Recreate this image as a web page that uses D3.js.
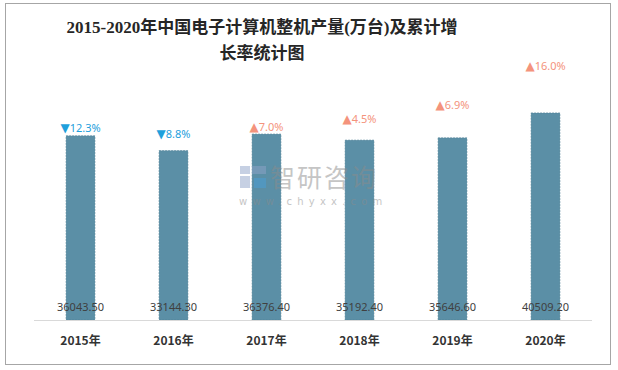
<!DOCTYPE html>
<html>
<head>
<meta charset="utf-8">
<script src="https://cdn.jsdelivr.net/npm/d3@7"></script>
<style>
  body { margin: 0; background: #fff; }
  svg { display: block; }
</style>
</head>
<body>
<div id="chart"></div>
<script>
// values
const years = ["2015年", "2016年", "2017年", "2018年", "2019年", "2020年"];
const output = [36043.5, 33144.3, 36376.4, 35192.4, 35646.6, 40509.2];
const growth = [-12.3, -8.8, 7.0, 4.5, 6.9, 16.0];
// hidden helper series that carries the growth labels (same unit as output)
const labelAnchor = [37550, 36400, 37750, 39300, 42050, 49650];

const W = 618, H = 370;
const margin = { top: 90, right: 26, bottom: 50, left: 34 };
const width = W - margin.left - margin.right;
const height = H - margin.top - margin.bottom;

const svg = d3.select("#chart").append("svg")
    .attr("width", W)
    .attr("height", H);

// outer frame
svg.append("rect")
    .attr("x", 5.5).attr("y", 3.5)
    .attr("width", 605).attr("height", 361)
    .attr("fill", "none")
    .attr("stroke", "#a6a6a6")
    .attr("stroke-width", 1);

// title
const title = svg.append("text")
    .attr("text-anchor", "middle")
    .attr("font-family", "'Liberation Serif', 'Noto Sans CJK SC', serif")
    .attr("font-size", 17)
    .attr("font-weight", 600)
    .attr("fill", "#262626");
title.append("tspan").attr("x", 262).attr("y", 33)
    .text("2015-2020年中国电子计算机整机产量(万台)及累计增");
title.append("tspan").attr("x", 262).attr("y", 59)
    .text("长率统计图");

const g = svg.append("g")
    .attr("transform", "translate(" + margin.left + "," + margin.top + ")");

const x = d3.scaleBand()
    .domain(years)
    .range([0, width])
    .paddingInner(0.69)
    .paddingOuter(0.345);

const y = d3.scaleLinear()
    .domain([0, 45000])
    .range([height, 0]);

// bars
g.selectAll("rect.bar")
    .data(output)
    .enter().append("rect")
    .attr("class", "bar")
    .attr("x", (d, i) => x(years[i]))
    .attr("y", d => y(d))
    .attr("width", x.bandwidth())
    .attr("height", d => y(0) - y(d))
    .attr("fill", "#5b8fa6")
    .attr("stroke", "#4f7f95")
    .attr("stroke-width", 0.6)
    .attr("stroke-dasharray", "2,1");

// axis line
g.append("line")
    .attr("x1", 0).attr("x2", width)
    .attr("y1", height + 0.5).attr("y2", height + 0.5)
    .attr("stroke", "#d9d9d9")
    .attr("stroke-width", 1);

// category labels
const xAxis = g.append("g")
    .attr("transform", "translate(0," + height + ")")
    .call(d3.axisBottom(x).tickSize(0).tickPadding(16));
xAxis.select(".domain").remove();
xAxis.selectAll("text")
    .attr("font-family", "'Noto Sans CJK SC', sans-serif")
    .attr("font-size", 12)
    .attr("font-weight", "bold")
    .attr("fill", "#333");

// value labels at the bottom of bars
g.selectAll("text.val")
    .data(output)
    .enter().append("text")
    .attr("class", "val")
    .attr("x", (d, i) => x(years[i]) + x.bandwidth() / 2)
    .attr("y", height - 9)
    .attr("text-anchor", "middle")
    .attr("font-family", "'Noto Sans', sans-serif")
    .attr("font-size", 11)
    .attr("fill", "#404040")
    .text(d => d.toFixed(2));

// growth labels
const gl = g.selectAll("text.growth")
    .data(growth)
    .enter().append("text")
    .attr("class", "growth")
    .attr("x", (d, i) => x(years[i]) + x.bandwidth() / 2)
    .attr("y", (d, i) => y(labelAnchor[i]) + 4)
    .attr("text-anchor", "middle")
    .attr("font-family", "'Noto Sans', sans-serif")
    .attr("font-size", 11)
    .attr("fill", d => d < 0 ? "#1ea0dc" : "#f4937c");
gl.append("tspan")
    .attr("font-family", "'DejaVu Sans', sans-serif")
    .attr("font-size", 12)
    .text(d => d < 0 ? "▼" : "▲");
gl.append("tspan")
    .text(d => Math.abs(d).toFixed(1) + "%");

// watermark, drawn over the bars
const wm = svg.append("g").attr("opacity", 0.5);
wm.append("rect").attr("x", 240).attr("y", 166).attr("width", 10).attr("height", 8).attr("fill", "#8fa3c8");
wm.append("rect").attr("x", 252).attr("y", 166).attr("width", 14).attr("height", 8).attr("fill", "#8fa3c8");
wm.append("rect").attr("x", 240).attr("y", 176).attr("width", 10).attr("height", 12).attr("fill", "#8fa3c8");
wm.append("rect").attr("x", 254).attr("y", 178).attr("width", 12).attr("height", 10).attr("fill", "#4a9fd8");
wm.append("text")
    .attr("x", 270).attr("y", 187)
    .attr("font-family", "'Noto Sans CJK SC', sans-serif")
    .attr("font-size", 25)
    .attr("letter-spacing", 2)
    .attr("fill", "#8c8c8c")
    .text("智研咨询");
wm.append("text")
    .attr("x", 239).attr("y", 205)
    .attr("font-family", "'DejaVu Sans', sans-serif")
    .attr("font-size", 10)
    .attr("letter-spacing", 5.2)
    .attr("fill", "#8c8c8c")
    .text("www.chyxx.com");
</script>
</body>
</html>
